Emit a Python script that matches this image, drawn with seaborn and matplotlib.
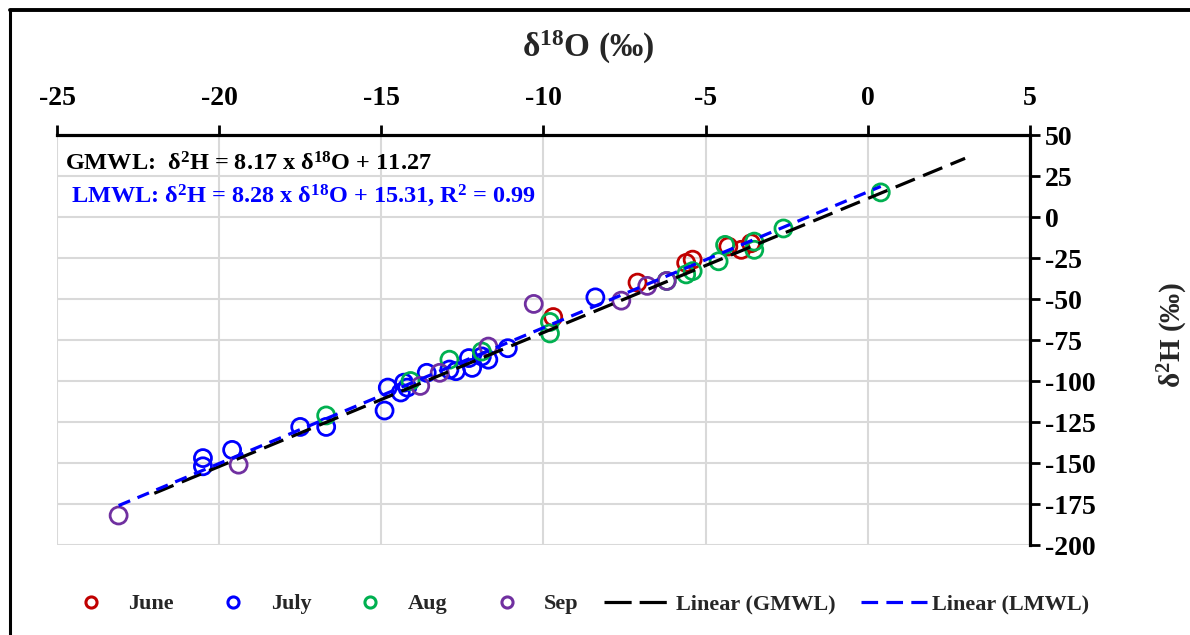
import matplotlib
matplotlib.use("Agg")
import matplotlib.pyplot as plt
from matplotlib.lines import Line2D
import numpy as np
import pandas as pd
import seaborn as sns

# Isotope samples by month (δ18O, δ2H in ‰)
june_d18o = [-9.7, -7.1, -5.6, -5.4, -4.3, -3.9, -3.6]
june_d2h = [-61, -40, -28, -26, -18, -20, -16]
july_d18o = [-20.5, -20.5, -19.6, -17.5, -16.7, -14.9, -14.8, -14.4, -14.3, -14.2,
             -13.6, -12.9, -12.7, -12.3, -12.2, -11.9, -11.7, -11.1, -8.4]
july_d2h = [-147, -152, -142, -128, -128, -118, -104, -107, -101, -104,
            -95, -93, -94, -86, -92, -85, -87, -80, -49]
aug_d18o = [-16.7, -14.1, -12.9, -11.9, -9.8, -9.8, -6.2, -5.6, -5.4, -4.6,
            -4.4, -3.5, -3.5, -2.6, 0.4]
aug_d2h = [-121, -100, -87, -82, -64, -71, -39, -35, -33, -27,
           -17, -15, -20, -7, 15]
sep_d18o = [-23.1, -19.4, -13.8, -13.2, -11.7, -10.3, -7.6, -6.8, -6.2]
sep_d2h = [-182, -151, -103, -95, -79, -53, -51, -42, -39]

months = ["June", "July", "Aug", "Sep"]
month_colors = ["#C00000", "#0000FF", "#00B050", "#7030A0"]

# Meteoric water lines: slope, intercept and δ18O extent
gmwl_slope, gmwl_intercept = 8.17, 11.27
gmwl_extent = [-22.0, 3.0]
lmwl_slope, lmwl_intercept = 8.28, 15.31
lmwl_extent = [-23.1, 0.4]
lmwl_r2 = 0.99

x_ticks = [-25, -20, -15, -10, -5, 0, 5]
y_ticks = [50, 25, 0, -25, -50, -75, -100, -125, -150, -175, -200]

df = pd.DataFrame({
    "d18O": june_d18o + july_d18o + aug_d18o + sep_d18o,
    "d2H": june_d2h + july_d2h + aug_d2h + sep_d2h,
    "Month": (["June"] * len(june_d18o) + ["July"] * len(july_d18o)
              + ["Aug"] * len(aug_d18o) + ["Sep"] * len(sep_d18o)),
})

sns.set_style("white")
plt.rcParams["font.family"] = ["Liberation Serif", "DejaVu Serif"]
plt.rcParams["font.weight"] = "bold"
plt.rcParams["axes.unicode_minus"] = False
plt.rcParams["mathtext.fontset"] = "custom"
plt.rcParams["mathtext.rm"] = "Liberation Serif:bold"
plt.rcParams["mathtext.bf"] = "Liberation Serif:bold"
plt.rcParams["mathtext.it"] = "Liberation Serif:bold"
plt.rcParams["mathtext.default"] = "rm"

fig = plt.figure(figsize=(11.9, 6.35), dpi=100)
ax = fig.add_axes([0.0479, 0.1417, 0.8176, 0.6457])

palette = dict(zip(months, month_colors))
for m in months:
    sub = df[df["Month"] == m]
    sns.scatterplot(data=sub, x="d18O", y="d2H", ax=ax, s=150,
                    facecolors="none", edgecolor=palette[m], linewidth=2.0,
                    marker="o", zorder=3, legend=False)

gx = np.array(gmwl_extent)
lx = np.array(lmwl_extent)
ax.plot(gx, gmwl_slope * gx + gmwl_intercept, color="black", lw=2.3,
        dashes=(6.5, 2.8), zorder=4)
ax.plot(lx, lmwl_slope * lx + lmwl_intercept, color="#0000FF", lw=2.3,
        dashes=(3.9, 2.5), zorder=5)

ax.set_xlim(x_ticks[0], x_ticks[-1])
ax.set_ylim(y_ticks[-1], y_ticks[0])
ax.set_xticks(x_ticks)
ax.set_yticks(y_ticks)
ax.xaxis.tick_top()
ax.yaxis.tick_right()
ax.grid(True, color="#D9D9D9", lw=1.5, zorder=0)
ax.set_axisbelow(True)
for side in ["left", "bottom"]:
    ax.spines[side].set_visible(False)
for side in ["top", "right"]:
    ax.spines[side].set_linewidth(2.3)
    ax.spines[side].set_color("black")
ax.tick_params(axis="both", direction="out", length=7, width=2.0,
               labelsize=20, colors="black", pad=4)
ax.tick_params(axis="x", pad=10)
for lab in ax.get_xticklabels() + ax.get_yticklabels():
    lab.set_fontweight("bold")
ax.set_xlabel("")
ax.set_ylabel("")

fig.text(588 / 1190, 1 - 47 / 635, r"δ$^{18}$O (‰)", ha="center", va="center",
         fontsize=24, fontweight="bold")
fig.text(1173 / 1190, 1 - 335 / 635, r"δ$^{2}$H (‰)", ha="center", va="center",
         rotation=90, fontsize=21, fontweight="bold")

fig.text(65 / 1190, 1 - 164 / 635,
         rf"GMWL:  δ$^{{2}}$H = {gmwl_slope:.2f} x δ$^{{18}}$O + {gmwl_intercept:.2f}",
         ha="left", va="center", fontsize=17.5, fontweight="bold", color="black")
fig.text(71 / 1190, 1 - 196 / 635,
         rf"LMWL: δ$^{{2}}$H = {lmwl_slope:.2f} x δ$^{{18}}$O + {lmwl_intercept:.2f}, "
         rf"R$^{{2}}$ = {lmwl_r2:.2f}",
         ha="left", va="center", fontsize=17.5, fontweight="bold", color="#0000FF")

handles = [Line2D([], [], marker="o", ls="none", markersize=8,
                  markerfacecolor="none", markeredgecolor=c, markeredgewidth=2.2)
           for c in month_colors]
handles.append(Line2D([], [], color="black", lw=2.3, dashes=(8.5, 2.5)))
handles.append(Line2D([], [], color="#0000FF", lw=2.3, dashes=(5.2, 2.6)))
labels = months + ["Linear (GMWL)", "Linear (LMWL)"]
fig.legend(handles, labels, loc="center", bbox_to_anchor=(0.4816, 1 - 604 / 635),
           ncol=6, frameon=False, handlelength=3.0, handletextpad=0.2,
           columnspacing=1.15, prop={"family": "Liberation Serif", "weight": "bold",
                                     "size": 16})

# Outer chart border along the top and left edges
fig.add_artist(Line2D([10 / 1190, 10 / 1190], [0, 1 - 10 / 635],
                      transform=fig.transFigure, color="black", lw=2.2))
fig.add_artist(Line2D([10 / 1190, 1], [1 - 10 / 635, 1 - 10 / 635],
                      transform=fig.transFigure, color="black", lw=2.8))

fig.savefig("out.png", dpi=100)
